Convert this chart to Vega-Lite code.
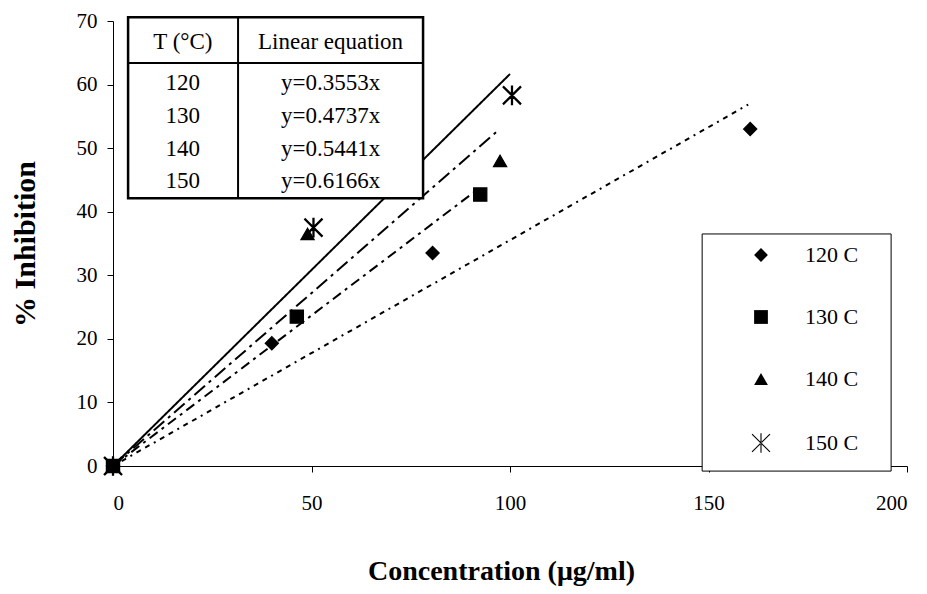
{
  "$schema": "https://vega.github.io/schema/vega-lite/v6.json",
  "width": 794,
  "height": 445,
  "autosize": {"type": "none"},
  "padding": {"left": 113, "top": 21, "right": 20, "bottom": 128},
  "background": "white",
  "config": {
    "font": "Liberation Serif",
    "view": {"stroke": null},
    "axis": {
      "domainColor": "black", "tickColor": "black", "labelColor": "black", "titleColor": "black",
      "tickSize": 6, "labelFontSize": 21, "labelFont": "Liberation Serif",
      "titleFont": "Liberation Serif", "titleFontSize": 28, "titleFontWeight": "bold",
      "grid": false, "domainWidth": 1, "tickWidth": 1
    }
  },
  "datasets": {
    "points": [
      {"series": "120 C", "conc": 0, "inh": 0},
      {"series": "120 C", "conc": 40, "inh": 19.3},
      {"series": "120 C", "conc": 80.5, "inh": 33.5},
      {"series": "120 C", "conc": 160.5, "inh": 53},
      {"series": "130 C", "conc": 0, "inh": 0},
      {"series": "130 C", "conc": 46.3, "inh": 23.5},
      {"series": "130 C", "conc": 92.5, "inh": 42.7},
      {"series": "140 C", "conc": 0, "inh": 0},
      {"series": "140 C", "conc": 49, "inh": 36.5},
      {"series": "140 C", "conc": 97.5, "inh": 48},
      {"series": "150 C", "conc": 0, "inh": 0},
      {"series": "150 C", "conc": 50.5, "inh": 37.5},
      {"series": "150 C", "conc": 100.5, "inh": 58.3}
    ],
    "trend": [
      {"fit": "120", "conc": 0, "inh": 0},
      {"fit": "120", "conc": 160, "inh": 56.85},
      {"fit": "130", "conc": 0, "inh": 0},
      {"fit": "130", "conc": 92, "inh": 43.58},
      {"fit": "140", "conc": 0, "inh": 0},
      {"fit": "140", "conc": 97, "inh": 52.78},
      {"fit": "150", "conc": 0, "inh": 0},
      {"fit": "150", "conc": 100, "inh": 61.66}
    ],
    "table": [
      {"T": "120", "eq": "y=0.3553x", "row": 1},
      {"T": "130", "eq": "y=0.4737x", "row": 2},
      {"T": "140", "eq": "y=0.5441x", "row": 3},
      {"T": "150", "eq": "y=0.6166x", "row": 4}
    ],
    "one": [{}]
  },
  "layer": [
    {
      "layer": [
        {
          "data": {"name": "one"},
          "mark": {"type": "rect", "fill": "white", "stroke": "black", "strokeWidth": 1},
          "encoding": {
            "x": {"datum": 148.4, "type": "quantitative"}, "x2": {"datum": 196.0},
            "y": {"datum": 36.5, "type": "quantitative"}, "y2": {"datum": -0.8}
          }
        },
        {
          "data": {"name": "trend"},
          "mark": {"type": "line", "color": "black", "strokeWidth": 2},
          "encoding": {
            "x": {"field": "conc", "type": "quantitative", "scale": {"domain": [0, 200], "nice": false},
              "axis": {"values": [0, 50, 100, 150, 200], "title": "Concentration (μg/ml)", "labelPadding": 20, "titlePadding": 44, "titleX": 388}},
            "y": {"field": "inh", "type": "quantitative", "scale": {"domain": [0, 70], "nice": false},
              "axis": {"values": [0, 10, 20, 30, 40, 50, 60, 70], "title": "% Inhibition", "labelPadding": 10, "titlePadding": 36, "titleFontSize": 30}},
            "detail": {"field": "fit"},
            "strokeDash": {"field": "fit", "type": "nominal", "legend": null,
              "scale": {"domain": ["120", "130", "140", "150"], "range": [[5, 5, 5, 5, 2, 5], [10, 5, 3, 5], [14, 5, 3, 5], [1, 0]]}},
            "strokeWidth": {"field": "fit", "type": "nominal", "legend": null,
              "scale": {"domain": ["120", "130", "140", "150"], "range": [2, 2.5, 2.5, 1.5]}}
          }
        },
        {
          "data": {"name": "points"},
          "mark": {"type": "point", "filled": true, "fill": "black", "stroke": "black", "strokeWidth": 1.2, "opacity": 1, "size": 175},
          "encoding": {
            "x": {"field": "conc", "type": "quantitative"},
            "y": {"field": "inh", "type": "quantitative"},
            "shape": {"field": "series", "type": "nominal",
              "scale": {"domain": ["120 C", "130 C", "140 C", "150 C"], "range": ["diamond", "square", "triangle-up", "M-0.08,-1.4L0.08,-1.4L0.08,1.4L-0.08,1.4ZM-1.243,-1.357L1.357,1.243L1.243,1.357L-1.357,-1.243ZM-1.243,1.357L1.357,-1.243L1.243,-1.357L-1.357,1.243Z"]},
              "legend": {"orient": "none", "legendX": 637, "legendY": 223, "title": null, "padding": 0,
                "labelFontSize": 22, "labelFont": "Liberation Serif", "labelColor": "black",
                "symbolSize": 190, "symbolFillColor": "black", "symbolStrokeColor": "black", "symbolStrokeWidth": 1.5,
                "labelOffset": 33, "rowPadding": 40, "symbolOpacity": 1}}
          }
        },
        {
          "data": {"name": "one"},
          "mark": {"type": "rect", "fill": "white", "stroke": "black", "strokeWidth": 2.5},
          "encoding": {
            "x": {"datum": 3.8, "type": "quantitative"}, "x2": {"datum": 78.1},
            "y": {"datum": 70.6, "type": "quantitative"}, "y2": {"datum": 42.1}
          }
        },
        {
          "data": {"name": "one"},
          "mark": {"type": "rule", "stroke": "black", "strokeWidth": 2},
          "encoding": {
            "x": {"datum": 31.5, "type": "quantitative"},
            "y": {"datum": 70.6, "type": "quantitative"}, "y2": {"datum": 42.1}
          }
        },
        {
          "data": {"name": "one"},
          "mark": {"type": "rule", "stroke": "black", "strokeWidth": 2},
          "encoding": {
            "x": {"datum": 3.8, "type": "quantitative"}, "x2": {"datum": 78.1},
            "y": {"datum": 63.4, "type": "quantitative"}
          }
        },
        {
          "data": {"name": "one"},
          "mark": {"type": "text", "fontSize": 23, "font": "Liberation Serif", "color": "black", "baseline": "middle"},
          "encoding": {
            "x": {"datum": 17.6, "type": "quantitative"},
            "y": {"datum": 66.7, "type": "quantitative"},
            "text": {"value": "T (°C)"}
          }
        },
        {
          "data": {"name": "one"},
          "mark": {"type": "text", "fontSize": 23, "font": "Liberation Serif", "color": "black", "baseline": "middle"},
          "encoding": {
            "x": {"datum": 54.8, "type": "quantitative"},
            "y": {"datum": 66.7, "type": "quantitative"},
            "text": {"value": "Linear equation"}
          }
        }
      ]
    },
    {
      "data": {"name": "table"},
      "layer": [
        {
          "mark": {"type": "text", "fontSize": 23, "font": "Liberation Serif", "color": "black", "baseline": "middle"},
          "encoding": {
            "x": {"datum": 17.6, "type": "quantitative"},
            "y": {"field": "row", "type": "quantitative", "scale": {"domain": [-0.9, 12.7], "reverse": true, "nice": false, "zero": false}, "axis": null},
            "text": {"field": "T"}
          }
        },
        {
          "mark": {"type": "text", "fontSize": 23, "font": "Liberation Serif", "color": "black", "baseline": "middle"},
          "encoding": {
            "x": {"datum": 54.8, "type": "quantitative"},
            "y": {"field": "row", "type": "quantitative"},
            "text": {"field": "eq"}
          }
        }
      ]
    }
  ],
  "resolve": {"scale": {"y": "independent"}}
}
